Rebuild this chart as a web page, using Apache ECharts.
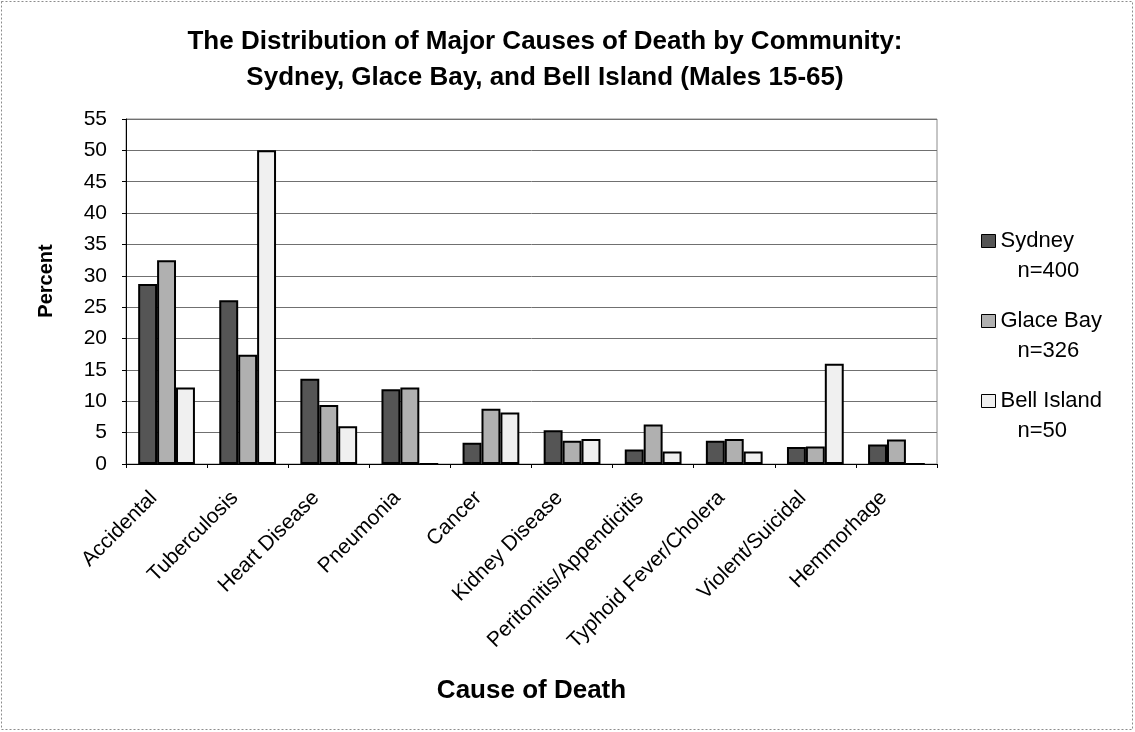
<!DOCTYPE html>
<html>
<head>
<meta charset="utf-8">
<title>Major Causes of Death by Community</title>
<script src="https://cdn.jsdelivr.net/npm/echarts@6/dist/echarts.min.js"></script>
<style>
  html, body { margin: 0; padding: 0; background: #ffffff; }
  #chart { width: 1135px; height: 732px; }
</style>
</head>
<body>
<div id="chart"></div>
<script>
// Causes of death (x categories)
const causes = [
  'Accidental', 'Tuberculosis', 'Heart Disease', 'Pneumonia', 'Cancer',
  'Kidney Disease', 'Peritonitis/Appendicitis', 'Typhoid Fever/Cholera',
  'Violent/Suicidal', 'Hemmorhage'
];

// Communities and their sample sizes
const communities = ['Sydney', 'Glace Bay', 'Bell Island'];
const sampleSizes = [400, 326, 50];

// Percent of deaths per cause, one array per community
const sydney = [28.7, 26.1, 13.6, 11.9, 3.4, 5.4, 2.3, 3.7, 2.7, 3.1];
const glaceBay = [32.5, 17.4, 9.4, 12.2, 8.8, 3.7, 6.3, 4.0, 2.8, 3.9];
const bellIsland = [12.2, 50.0, 6.0, 0, 8.2, 4.0, 2.0, 2.0, 16.0, 0];

// Y axis range
const yMin = 0;
const yMax = 55;
const yStep = 5;

const FONT = "'Liberation Sans', Arial, Helvetica, sans-serif";
const fills = ['#555555', '#b0b0b0', '#f0f0f0'];
const seriesValues = [sydney, glaceBay, bellIsland];

const chart = echarts.init(document.getElementById('chart'), null, { renderer: 'canvas' });

const sizeByName = {};
communities.forEach((c, i) => { sizeByName[c] = sampleSizes[i]; });

const option = {
  backgroundColor: '#ffffff',
  animation: false,
  title: {
    text: 'The Distribution of Major Causes of Death by Community:\nSydney, Glace Bay, and Bell Island (Males 15-65)',
    left: 545,
    top: 24,
    padding: 0,
    textAlign: 'center',
    textStyle: {
      fontFamily: FONT,
      fontSize: 26,
      fontWeight: 'bold',
      color: '#000',
      lineHeight: 36
    }
  },
  grid: {
    left: 126,
    right: 198,
    top: 119,
    bottom: 268,
    show: true,
    borderColor: '#8c8c8c',
    borderWidth: 1,
    backgroundColor: 'transparent'
  },
  legend: {
    orient: 'vertical',
    left: 981,
    top: 196,
    padding: 0,
    icon: 'rect',
    itemWidth: 14,
    itemHeight: 13,
    itemGap: -10,
    selectedMode: false,
    itemStyle: { borderColor: '#000', borderWidth: 1 },
    data: communities,
    formatter: function (name) {
      return '{s| }\n{a|' + name + '}\n{b|n=' + sizeByName[name] + '}';
    },
    textStyle: {
      fontFamily: FONT,
      fontSize: 22,
      color: '#000',
      lineHeight: 30,
      rich: {
        s: { fontFamily: FONT, fontSize: 22, lineHeight: 30 },
        a: { fontFamily: FONT, fontSize: 22, lineHeight: 30, color: '#000' },
        b: { fontFamily: FONT, fontSize: 22, lineHeight: 30, color: '#000', padding: [0, 0, 0, 17] }
      }
    }
  },
  xAxis: {
    type: 'category',
    data: causes,
    name: 'Cause of Death',
    nameLocation: 'middle',
    nameGap: 214,
    nameTextStyle: {
      fontFamily: FONT,
      fontSize: 26,
      fontWeight: 'bold',
      color: '#000',
      verticalAlign: 'top'
    },
    axisLine: { show: true, lineStyle: { color: '#000', width: 1 } },
    axisTick: { show: true, inside: false, length: 4, alignWithLabel: false, lineStyle: { color: '#000' } },
    axisLabel: {
      interval: 0,
      rotate: 45,
      margin: 18,
      padding: [0, 18, 0, 0],
      fontFamily: FONT,
      fontSize: 21,
      color: '#000'
    },
    splitLine: { show: false }
  },
  yAxis: {
    type: 'value',
    min: yMin,
    max: yMax,
    interval: yStep,
    axisLine: { show: true, lineStyle: { color: '#000', width: 1 } },
    axisTick: { show: true, inside: false, length: 4, lineStyle: { color: '#000' } },
    axisLabel: {
      margin: 19,
      fontFamily: FONT,
      fontSize: 21,
      color: '#000'
    },
    splitLine: { show: true, lineStyle: { color: '#707070', width: 1 } }
  },
  series: communities.map((name, i) => ({
    name: name,
    type: 'bar',
    data: seriesValues[i],
    barGap: '0%',
    barCategoryGap: '30%',
    itemStyle: {
      color: fills[i],
      borderColor: '#000',
      borderWidth: 2
    },
    emphasis: { disabled: true }
  })),
  graphic: [
    {
      type: 'text',
      x: 46,
      y: 281,
      rotation: Math.PI / 2,
      style: {
        text: 'Percent',
        fontFamily: FONT,
        fontSize: 20,
        fontWeight: 'bold',
        fill: '#000',
        align: 'center',
        verticalAlign: 'middle'
      }
    },
    {
      type: 'rect',
      shape: { x: 1.5, y: 1.5, width: 1131, height: 728 },
      style: { fill: 'none', stroke: '#8c8c8c', lineWidth: 1, lineDash: [2, 2] },
      silent: true
    }
  ]
};

chart.setOption(option);
</script>
</body>
</html>
